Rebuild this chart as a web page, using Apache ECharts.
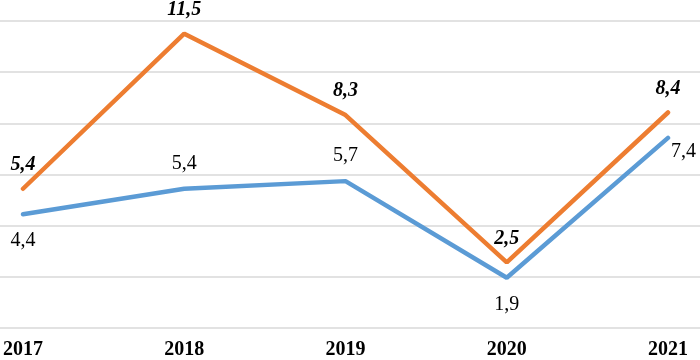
<!DOCTYPE html>
<html>
<head>
<meta charset="utf-8">
<script src="https://cdn.jsdelivr.net/npm/echarts@6/dist/echarts.min.js"></script>
<style>html,body{margin:0;padding:0;background:#fff}#c{width:700px;height:360px}</style>
</head>
<body>
<div id="c"></div>
<script>
const categories = ['2017', '2018', '2019', '2020', '2021'];
const orangeValues = [5.4, 11.5, 8.3, 2.5, 8.4];
const blueValues = [4.4, 5.4, 5.7, 1.9, 7.4];
const blueLabelPos = ['bottom', 'top', 'top', 'bottom', 'right'];

const chart = echarts.init(document.getElementById('c'));
const fmt = p => String(p.value).replace('.', ',');
const FONT = '"Liberation Serif", "Times New Roman", serif';

chart.setOption({
  animation: false,
  grid: [
    { left: 20, right: 32, top: 21, bottom: 32 },
    { left: 0, right: 0, top: 21, bottom: 32 }
  ],
  xAxis: [
    {
      gridIndex: 0,
      type: 'category',
      data: categories,
      boundaryGap: false,
      axisLine: { show: false },
      axisTick: { show: false },
      splitLine: { show: false },
      axisLabel: { color: '#000', fontFamily: FONT, fontWeight: 'bold', fontSize: 20, margin: 14 }
    },
    {
      gridIndex: 1,
      type: 'category',
      data: categories,
      show: false
    }
  ],
  yAxis: [
    {
      gridIndex: 0,
      type: 'value',
      min: 0, max: 12, interval: 2,
      axisLabel: { show: false },
      axisLine: { show: false },
      axisTick: { show: false },
      splitLine: { show: false }
    },
    {
      gridIndex: 1,
      type: 'value',
      min: 0, max: 12, interval: 2,
      axisLabel: { show: false },
      axisLine: { show: false },
      axisTick: { show: false },
      splitLine: { lineStyle: { color: '#d9d9d9', width: 1.5 } }
    }
  ],
  series: [
    {
      type: 'line',
      xAxisIndex: 0, yAxisIndex: 0,
      data: blueValues.map((v, i) => {
        const pos = blueLabelPos[i];
        const lab = { position: pos };
        if (pos === 'right') { lab.offset = [-4, 14]; lab.distance = 6; }
        if (pos === 'bottom') lab.distance = 16;
        if (pos === 'top') lab.distance = 14;
        return { value: v, label: lab };
      }),
      symbol: 'circle',
      symbolSize: 2,
      showSymbol: true,
      itemStyle: { color: 'rgba(0,0,0,0)' },
      lineStyle: { color: '#5B9BD5', width: 4.5, cap: 'round' },
      label: { show: true, formatter: fmt, color: '#000', fontFamily: FONT, fontSize: 20 },
      z: 2
    },
    {
      type: 'line',
      xAxisIndex: 0, yAxisIndex: 0,
      data: orangeValues,
      symbol: 'circle',
      symbolSize: 2,
      showSymbol: true,
      itemStyle: { color: 'rgba(0,0,0,0)' },
      lineStyle: { color: '#ED7D31', width: 4.5, cap: 'round' },
      label: { show: true, position: 'top', distance: 13, formatter: fmt, color: '#000', fontFamily: FONT, fontSize: 20, fontWeight: 'bold', fontStyle: 'italic' },
      z: 3
    }
  ]
});
</script>
</body>
</html>
